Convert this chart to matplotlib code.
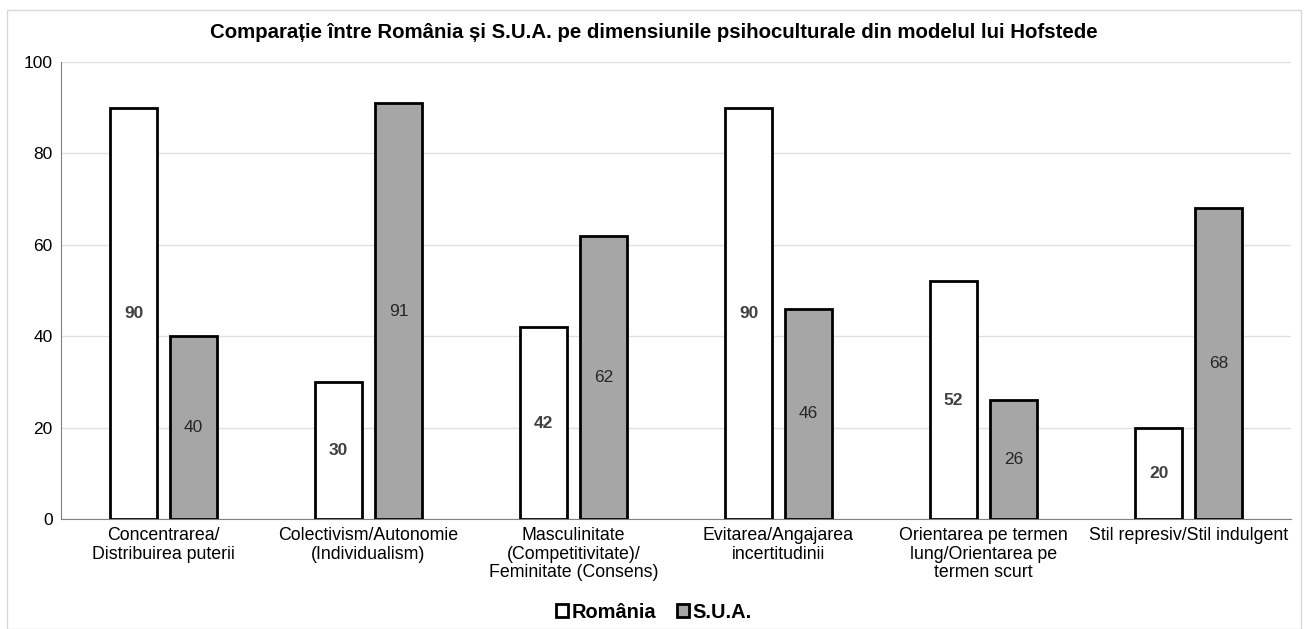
import matplotlib
matplotlib.use("Agg")
import matplotlib.pyplot as plt
import numpy as np

plt.rcParams['font.family'] = ['Liberation Sans', 'DejaVu Sans']

categories = ["Concentrarea/\nDistribuirea puterii",
              "Colectivism/Autonomie\n(Individualism)",
              "Masculinitate\n(Competitivitate)/\nFeminitate (Consens)",
              "Evitarea/Angajarea\nincertitudinii",
              "Orientarea pe termen\nlung/Orientarea pe\ntermen scurt",
              "Stil represiv/Stil indulgent"]
romania = [90, 30, 42, 90, 52, 20]
usa = [40, 91, 62, 46, 26, 68]

fig = plt.figure(figsize=(13.08, 6.29), dpi=100)
ax = fig.add_axes([61/1308, 1 - 519/629, 1230/1308, 457/629])

# outer border of the chart area
fig.patches.append(plt.Rectangle((7/1308, 0), 1294/1308, 619/629, transform=fig.transFigure,
                                 fill=False, edgecolor='#d9d9d9', linewidth=1))

x = np.arange(len(categories))
w = 0.23
off = 0.146
b1 = ax.bar(x - off, romania, w, color='white', edgecolor='black', linewidth=2, label='România', zorder=3)
b2 = ax.bar(x + off, usa, w, color='#a6a6a6', edgecolor='black', linewidth=2, label='S.U.A.', zorder=3)

for r, v in zip(b1, romania):
    ax.text(r.get_x() + r.get_width() / 2, v / 2, str(v), ha='center', va='center',
            fontsize=12.5, fontweight='bold', color='#404040', zorder=4)
for r, v in zip(b2, usa):
    ax.text(r.get_x() + r.get_width() / 2, v / 2, str(v), ha='center', va='center',
            fontsize=12.5, color='#262626', zorder=4)

ax.set_xlim(-0.5, len(categories) - 0.5)
ax.set_ylim(0, 100)
ax.set_yticks(range(0, 101, 20))
ax.set_xticks(x)
ax.set_xticklabels(categories, fontsize=12.8, linespacing=1.1)
ax.tick_params(axis='y', length=0, labelsize=12.5, pad=6)
ax.tick_params(axis='x', length=0, pad=6)
ax.grid(axis='y', color='#e0e0e0', linewidth=1, zorder=0)
for s in ['top', 'right']:
    ax.spines[s].set_visible(False)
ax.spines['left'].set_color('#808080')
ax.spines['bottom'].set_color('#808080')

fig.text(0.5, 1 - 33/629, "Comparație între România și S.U.A. pe dimensiunile psihoculturale din modelul lui Hofstede",
         ha='center', va='center', fontsize=14.7, fontweight='bold')

leg = fig.legend(loc='center', bbox_to_anchor=(0.5, 1 - 612/629), ncol=2, frameon=False,
                 handlelength=0.6, handleheight=0.6, handletextpad=0.2, columnspacing=1.0,
                 prop={'weight': 'bold', 'size': 14.4})

fig.savefig("out.png", dpi=100)
